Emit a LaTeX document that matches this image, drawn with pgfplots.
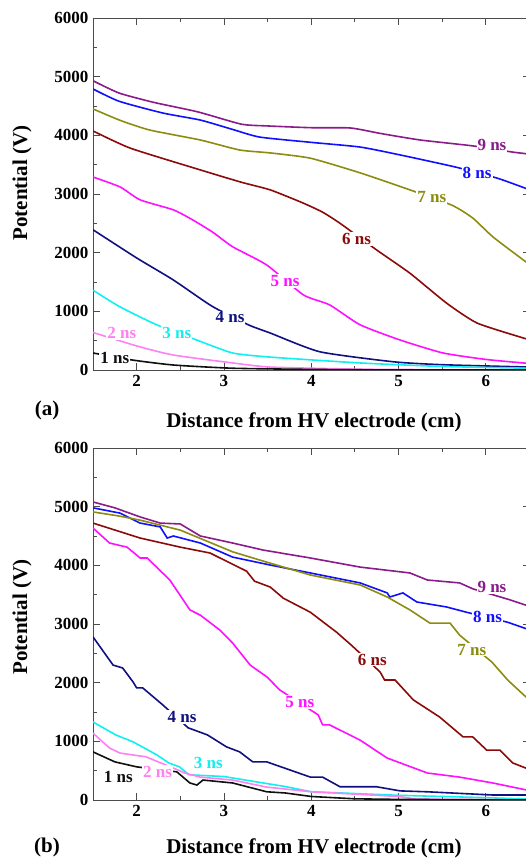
\documentclass[border=0pt]{standalone}
\usepackage{pgfplots}
\pgfplotsset{compat=1.18}
\usepackage{fontspec}
\setmainfont{Liberation Serif}
\definecolor{c9}{HTML}{8B1A8B}
\definecolor{c8}{HTML}{1010FF}
\definecolor{c7}{HTML}{8C8C10}
\definecolor{c6}{HTML}{8B0A0A}
\definecolor{c5}{HTML}{FF10FF}
\definecolor{c4}{HTML}{101080}
\definecolor{c3}{HTML}{10F0F0}
\definecolor{c2}{HTML}{FF80F0}
\definecolor{c1}{HTML}{101010}
\newcommand{\tfont}{\fontsize{17}{20}\selectfont\bfseries}
\newcommand{\lfont}{\fontsize{21}{25}\selectfont\bfseries}
\tikzset{lab/.style={font=\tfont, fill=white, inner sep=1pt, text=#1}}
\pgfplotsset{
  myax/.style={
    scale only axis, width=436.5pt, height=352pt,
    xmin=1.5, xmax=6.5, ymin=0, ymax=6000,
    xtick={2,3,4,5,6}, ytick={0,1000,2000,3000,4000,5000,6000},
    minor x tick num=1, minor y tick num=1,
    tick align=inside, major tick length=7pt, minor tick length=4pt,
    axis line style={black!70, line width=0.9pt},
    every tick/.style={black!70, line width=0.9pt},
    tick label style={font=\tfont},
    /pgf/number format/assume math mode=true,
    /pgf/number format/1000 sep={},
    yticklabel style={xshift=-1pt},
    xticklabel style={yshift=-2pt},
    every axis plot/.append style={line width=1.6pt, no markers},
    clip=true,
  },
}
\begin{document}
\begin{tikzpicture}[x=1pt,y=1pt]
% ---------- panel (a) ----------
\begin{axis}[myax, at={(93pt,488pt)}, anchor=south west, every axis plot/.append style={smooth, tension=0.35}]
\addplot[c9] coordinates {(1.5,4930)(1.8,4720)(2.2,4560)(2.7,4400)(3.2,4190)(3.5,4160)(4.0,4130)(4.45,4125)(4.8,4030)(5.25,3920)(5.85,3820)(6.3,3716)(6.5,3680)};
\addplot[c8] coordinates {(1.5,4790)(1.8,4580)(2.3,4380)(2.73,4260)(3.1,4100)(3.41,3970)(4.0,3880)(4.56,3800)(5.02,3665)(5.65,3460)(6.13,3270)(6.45,3100)(6.5,3070)};
\addplot[c7] coordinates {(1.5,4450)(1.82,4250)(2.15,4090)(2.73,3920)(3.18,3750)(3.53,3700)(3.99,3610)(4.56,3360)(5.13,3070)(5.61,2810)(5.85,2590)(6.08,2270)(6.43,1875)(6.5,1800)};
\addplot[c6] coordinates {(1.5,4075)(1.93,3780)(2.73,3410)(3.2,3200)(3.53,3070)(3.9,2850)(4.13,2690)(4.33,2500)(4.75,2045)(5.13,1650)(5.55,1140)(5.9,800)(6.43,545)(6.5,520)};
\addplot[c5] coordinates {(1.5,3290)(1.81,3120)(2.04,2900)(2.42,2730)(2.64,2560)(2.87,2350)(3.1,2100)(3.49,1790)(3.91,1280)(4.21,1110)(4.56,770)(5.02,510)(5.51,290)(6.0,180)(6.43,120)(6.5,110)};
\addplot[c4] coordinates {(1.5,2390)(2.0,1910)(2.42,1535)(2.86,1090)(3.28,770)(3.53,630)(4.1,310)(4.94,140)(5.5,90)(6.5,50)};
\addplot[c3] coordinates {(1.5,1360)(1.81,1075)(2.23,770)(2.69,510)(3.1,290)(3.53,220)(4.56,120)(5.5,60)(6.5,30)};
\addplot[c2] coordinates {(1.5,640)(2.0,410)(2.42,255)(3.1,120)(3.53,50)(4.5,15)(5.5,5)(6.5,0)};
\addplot[c1] coordinates {(1.5,290)(1.95,170)(2.42,85)(3.1,30)(4.0,10)(5,0)(6.5,0)};
\node[lab=c9] at (axis cs:6.07,3835) {9 ns};
\node[lab=c8] at (axis cs:5.90,3360) {8 ns};
\node[lab=c7] at (axis cs:5.38,2950) {7 ns};
\node[lab=c6] at (axis cs:4.52,2230) {6 ns};
\node[lab=c5] at (axis cs:3.70,1515) {5 ns};
\node[lab=c4] at (axis cs:3.07,900) {4 ns};
\node[lab=c3] at (axis cs:2.46,630) {3 ns};
\node[lab=c2] at (axis cs:1.83,630) {2 ns};
\node[lab=c1] at (axis cs:1.75,200) {1 ns};
\end{axis}
% ---------- panel (b) ----------
\begin{axis}[myax, at={(93pt,58pt)}, anchor=south west]
\addplot[c9] coordinates {(1.5,5080)(1.75,4980)(2.04,4825)(2.27,4720)(2.5,4705)(2.73,4500)(3.1,4380)(3.45,4260)(3.99,4125)(4.56,3970)(5.13,3870)(5.33,3750)(5.7,3700)(5.85,3600)(6.28,3410)(6.5,3300)};
\addplot[c8] coordinates {(1.5,4980)(1.81,4890)(2.04,4720)(2.27,4655)(2.35,4465)(2.42,4500)(2.73,4380)(3.1,4140)(3.53,4005)(3.99,3870)(4.56,3700)(4.87,3530)(4.9,3460)(5.05,3530)(5.21,3375)(5.55,3290)(5.78,3200)(6.25,3030)(6.5,2900)};
\addplot[c7] coordinates {(1.5,4910)(1.8,4840)(2.04,4770)(2.5,4600)(3.1,4230)(3.5,4050)(3.99,3835)(4.56,3665)(4.87,3460)(5.13,3240)(5.36,3015)(5.59,3015)(5.7,2810)(6.07,2350)(6.25,2045)(6.5,1700)};
\addplot[c6] coordinates {(1.5,4720)(2.04,4465)(2.5,4310)(2.84,4210)(3.26,3900)(3.35,3730)(3.53,3630)(3.68,3440)(3.99,3200)(4.29,2860)(4.47,2625)(4.79,2180)(4.84,2045)(4.96,2045)(5.17,1705)(5.47,1415)(5.74,1075)(5.85,1075)(6.01,850)(6.16,850)(6.31,630)(6.5,520)};
\addplot[c5] coordinates {(1.5,4635)(1.69,4380)(1.89,4310)(2.04,4125)(2.12,4125)(2.38,3750)(2.61,3240)(2.73,3150)(2.95,2900)(3.1,2675)(3.3,2300)(3.49,2100)(3.64,1875)(4.08,1450)(4.13,1280)(4.21,1280)(4.56,1020)(4.87,715)(5.33,460)(5.7,390)(6.08,290)(6.5,160)};
\addplot[c4] coordinates {(1.5,2780)(1.73,2300)(1.84,2250)(1.96,2010)(2.0,1910)(2.07,1910)(2.3,1620)(2.59,1230)(2.81,1110)(3.03,905)(3.18,820)(3.33,650)(3.49,650)(3.99,390)(4.13,390)(4.33,225)(4.75,225)(5.02,155)(5.33,140)(6.08,85)(6.5,85)};
\addplot[c3] coordinates {(1.5,1330)(1.76,1110)(1.96,990)(2.23,770)(2.37,630)(2.49,565)(2.6,430)(3.0,400)(3.41,300)(3.7,230)(4.0,140)(4.5,110)(5.0,80)(5.5,60)(6.0,40)(6.5,15)};
\addplot[c2] coordinates {(1.5,1140)(1.69,885)(1.81,800)(2.04,750)(2.1,740)(2.46,520)(2.55,460)(2.73,390)(3.1,340)(3.49,220)(4.0,140)(4.5,100)(5.0,60)(5.2,15)(6.5,0)};
\addplot[c1] coordinates {(1.5,820)(1.75,650)(2.0,565)(2.46,480)(2.61,290)(2.69,255)(2.76,340)(3.1,290)(3.49,140)(3.7,120)(4.0,60)(4.5,20)(5.0,10)(6.5,0)};
\node[lab=c9] at (axis cs:6.07,3630) {9 ns};
\node[lab=c8] at (axis cs:6.02,3120) {8 ns};
\node[lab=c7] at (axis cs:5.84,2560) {7 ns};
\node[lab=c6] at (axis cs:4.70,2390) {6 ns};
\node[lab=c5] at (axis cs:3.87,1670) {5 ns};
\node[lab=c4] at (axis cs:2.52,1415) {4 ns};
\node[lab=c3] at (axis cs:2.82,630) {3 ns};
\node[lab=c2] at (axis cs:2.24,480) {2 ns};
\node[lab=c1] at (axis cs:1.79,390) {1 ns};
\end{axis}
% ---------- labels ----------
\node[font=\lfont, rotate=90] at (22,675) {Potential (V)};
\node[font=\lfont, rotate=90] at (22,241) {Potential (V)};
\node[font=\lfont] at (314,436) {Distance from HV electrode (cm)};
\node[font=\lfont] at (314,10) {Distance from HV electrode (cm)};
\node[font=\lfont] at (47,448) {(a)};
\node[font=\lfont] at (47,11) {(b)};
\pgfresetboundingbox
\useasboundingbox (0,0) rectangle (525,858);
\end{tikzpicture}
\end{document}
